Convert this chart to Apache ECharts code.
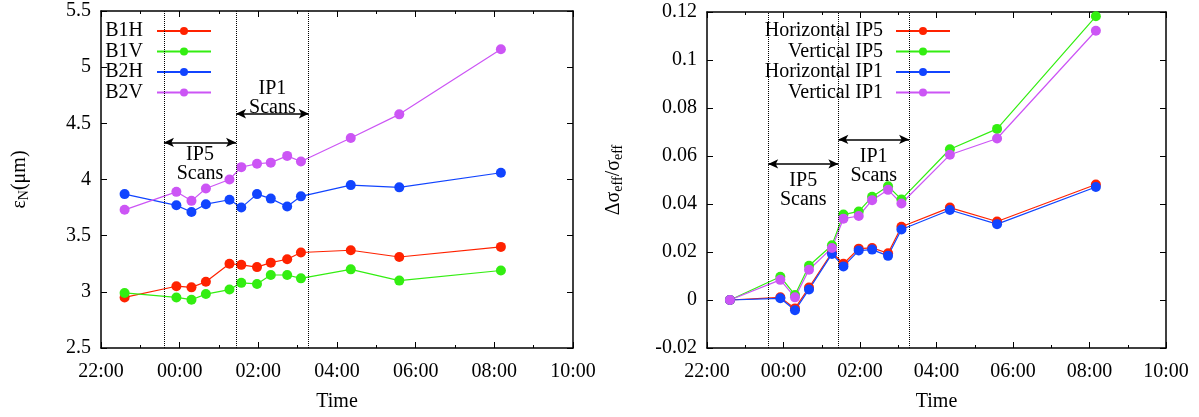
<!DOCTYPE html>
<html><head><meta charset="utf-8">
<script src="https://cdn.jsdelivr.net/npm/echarts@6/dist/echarts.min.js"></script>
<style>html,body{margin:0;padding:0;background:#fff}#c{width:1199px;height:417px}</style>
</head><body><div id="c"></div>
<script>
// ---- data ----
const times = ["22:36","23:55","00:18","00:40","01:16","01:34","01:58","02:19","02:44","03:05","04:21","05:35","08:10"];
const B1H = [2.95,3.05,3.04,3.09,3.25,3.24,3.22,3.26,3.29,3.35,3.37,3.31,3.40];
const B1V = [2.99,2.95,2.93,2.98,3.02,3.08,3.07,3.15,3.15,3.12,3.20,3.10,3.19];
const B2H = [3.87,3.77,3.71,3.78,3.82,3.75,3.87,3.83,3.76,3.85,3.95,3.93,4.06];
const B2V = [3.73,3.89,3.81,3.92,4.00,4.11,4.14,4.15,4.21,4.16,4.37,4.58,5.16];
const HorizontalIP5 = [0,0.0011,-0.0035,0.0052,0.0198,0.0151,0.0214,0.0217,0.0195,0.0305,0.0385,0.0327,0.0481];
const VerticalIP5   = [0,0.0097,0.0021,0.0143,0.0228,0.0356,0.0369,0.0430,0.0474,0.0419,0.0628,0.0713,0.1182];
const HorizontalIP1 = [0,0.0007,-0.0043,0.0044,0.0192,0.0140,0.0206,0.0210,0.0184,0.0294,0.0375,0.0316,0.0471];
const VerticalIP1   = [0,0.0084,0.0011,0.0126,0.0217,0.0339,0.0350,0.0416,0.0459,0.0402,0.0605,0.0673,0.1122];
const scanBounds = ["23:36","01:26","03:17"];
const xTickLabels = ["22:00","00:00","02:00","04:00","06:00","08:00","10:00"];
const leftNames = ["B1H","B1V","B2H","B2V"];
const rightNames = ["Horizontal IP5","Vertical IP5","Horizontal IP1","Vertical IP1"];
const colors = ["#ff2200","#33ee11","#1144ff","#cc55f5"];

// ---- helpers ----
function toH(s){const [h,m]=s.split(":").map(Number);let v=h+m/60;if(v<12)v+=24;return v-22;}
const xs = times.map(toH);
const bx = scanBounds.map(toH);
const FONT = "'Liberation Serif', 'DejaVu Serif', serif";
const fmtX = v => { const i = Math.round(v/2); return xTickLabels[i] !== undefined ? xTickLabels[i] : ""; };
const fmtY = v => String(+v.toFixed(4));

function xAxes(gi){
  const base = {type:'value', min:0, max:12, interval:2, gridIndex:gi,
    axisLine:{show:true,onZero:false,lineStyle:{color:'#000',width:1.5}},
    axisTick:{inside:true,length:6,lineStyle:{color:'#000'}},
    minorTick:{show:true,splitNumber:2,length:3,lineStyle:{color:'#000'}},
    splitLine:{show:false}};
  return [
    Object.assign({}, base, {position:'bottom', name:'Time', nameLocation:'middle', nameGap:44,
      nameTextStyle:{fontFamily:FONT,fontSize:20,color:'#000'},
      axisLabel:{formatter:fmtX, fontFamily:FONT, fontSize:20, color:'#000', margin:14}}),
    Object.assign({}, base, {position:'top', axisLabel:{show:false}})
  ];
}
function yAxes(gi, min, max, interval, name, rich, gap){
  const base = {type:'value', min, max, interval, gridIndex:gi,
    axisLine:{show:true,onZero:false,lineStyle:{color:'#000',width:1.5}},
    axisTick:{inside:true,length:6,lineStyle:{color:'#000'}},
    splitLine:{show:false}};
  return [
    Object.assign({}, base, {position:'left', name, nameLocation:'middle', nameGap:gap,
      nameTextStyle:{rich},
      axisLabel:{formatter:fmtY, fontFamily:FONT, fontSize:20, color:'#000', margin:10}}),
    Object.assign({}, base, {position:'right', axisLabel:{show:false}})
  ];
}
function series(names, vals, gi, marks){
  return names.map((n,i)=>({
    name:n, type:'line', xAxisIndex:gi*2, yAxisIndex:gi*2,
    data: xs.map((x,k)=>[x, vals[i][k]]),
    symbol:'circle', symbolSize:10, showSymbol:true,
    itemStyle:{color:colors[i]}, lineStyle:{color:colors[i], width:1.2},
    emphasis:{disabled:true}, animation:false,
    markLine: i===0 ? marks : undefined
  }));
}
function marks(arrows){
  const data = bx.map(v=>({xAxis:v, symbol:'none', lineStyle:{type:'dotted',color:'#000',width:1}, label:{show:false}}));
  arrows.forEach(a=>{
    data.push([
      {coord:[bx[a.from], a.y], symbol:'arrow', symbolSize:[7,10],
        lineStyle:{type:'solid',color:'#000',width:1.5},
        label:{show:true, formatter:a.text, position:a.pos, distance:a.d,
          fontFamily:FONT, fontSize:20, lineHeight:19, color:'#000'}},
      {coord:[bx[a.to], a.y], symbol:'arrow', symbolSize:[7,10]}
    ]);
  });
  return {silent:true, symbol:['none','none'], animation:false, data};
}
const rich1 = {e:{fontFamily:FONT,fontSize:20,color:'#000'}, s:{fontFamily:FONT,fontSize:14,color:'#000',verticalAlign:'bottom',padding:[8,0,0,0]}};
const legends = [];
leftNames.forEach((n,i)=>legends.push({data:[n], right:982, top:16+i*20.5, align:'right', itemWidth:54, itemHeight:10,
  selectedMode:false, textStyle:{fontFamily:FONT,fontSize:20,color:'#000',padding:[0,9,0,0]}}));
rightNames.forEach((n,i)=>legends.push({data:[n], right:243, top:16+i*20.5, align:'right', itemWidth:54, itemHeight:10,
  selectedMode:false, textStyle:{fontFamily:FONT,fontSize:20,color:'#000',padding:[0,8,0,0]}}));

const chart = echarts.init(document.getElementById('c'), null, {renderer:'canvas'});
chart.setOption({
  animation:false,
  backgroundColor:'#fff',
  textStyle:{fontFamily:FONT},
  legend: legends,
  grid:[{left:101,right:626,top:11,bottom:65},{left:707,right:33,top:12,bottom:65}],
  xAxis:[...xAxes(0), ...xAxes(1)],
  yAxis:[...yAxes(0,2.5,5.5,0.5,'{e|ε}{s|N}{e|(μm)}',rich1,70),
         ...yAxes(1,-0.02,0.12,0.02,'{e|Δσ}{s|eff}{e|/σ}{s|eff}',rich1,82)],
  series:[
    ...series(leftNames,[B1H,B1V,B2H,B2V],0, marks([
      {from:0,to:1,y:4.33,text:'IP5\nScans',pos:'insideMiddleBottom',d:3},
      {from:1,to:2,y:4.585,text:'IP1\nScans',pos:'insideMiddleTop',d:-3}])),
    ...series(rightNames,[HorizontalIP5,VerticalIP5,HorizontalIP1,VerticalIP1],1, marks([
      {from:0,to:1,y:0.0567,text:'IP5\nScans',pos:'insideMiddleBottom',d:7},
      {from:1,to:2,y:0.0669,text:'IP1\nScans',pos:'insideMiddleBottom',d:8}]))
  ]
});
</script></body></html>
